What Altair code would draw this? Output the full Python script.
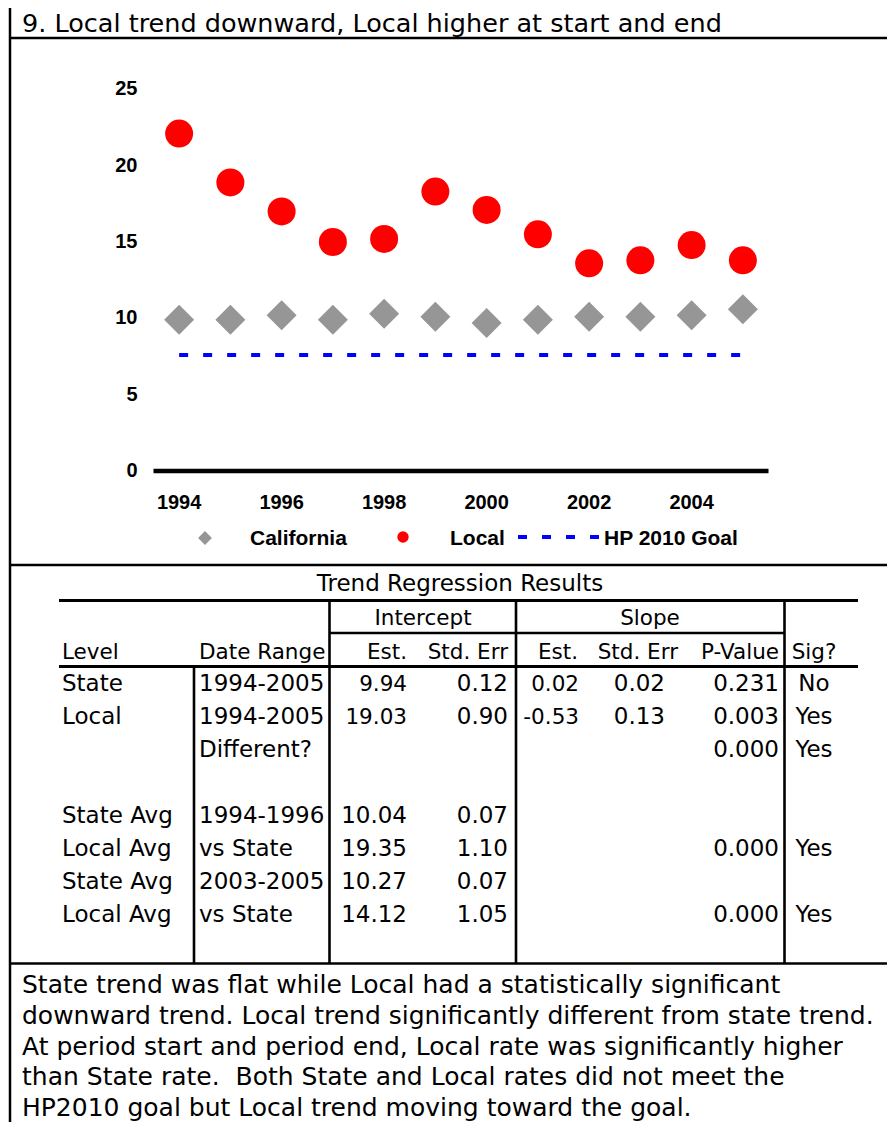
import altair as alt
import pandas as pd

# ---------------- data ----------------
years = [1994, 1995, 1996, 1997, 1998, 1999, 2000, 2001, 2002, 2003, 2004, 2005]
california = [9.9, 9.9, 10.2, 9.9, 10.3, 10.1, 9.7, 9.9, 10.1, 10.1, 10.2, 10.6]
local = [22.1, 18.9, 17.0, 15.0, 15.2, 18.3, 17.1, 15.5, 13.6, 13.8, 14.8, 13.8]
goal = [7.6, 7.6, 7.6, 7.6, 7.6, 7.6, 7.6, 7.6, 7.6, 7.6, 7.6, 7.6]
y_ticks = [0, 5, 10, 15, 20, 25]
x_ticks = [1994, 1996, 1998, 2000, 2002, 2004]
x_domain = [1993.5, 2005.5]
y_domain = [0, 25]
series_names = ["California", "Local", "HP 2010 Goal"]

title_text = "9. Local trend downward, Local higher at start and end"
table_title = "Trend Regression Results"
group_headers = ["Intercept", "Slope"]
col_headers = ["Level", "Date Range", "Est.", "Std. Err", "Est.", "Std. Err", "P-Value", "Sig?"]
level = ["State", "Local", "", "", "State Avg", "Local Avg", "State Avg", "Local Avg"]
date_range = ["1994-2005", "1994-2005", "Different?", "", "1994-1996", "vs State", "2003-2005", "vs State"]
int_est = ["9.94", "19.03", "", "", "10.04", "19.35", "10.27", "14.12"]
int_se = ["0.12", "0.90", "", "", "0.07", "1.10", "0.07", "1.05"]
slope_est = ["0.02", "-0.53", "", "", "", "", "", ""]
slope_se = ["0.02", "0.13", "", "", "", "", "", ""]
p_value = ["0.231", "0.003", "0.000", "", "", "0.000", "", "0.000"]
sig = ["No", "Yes", "Yes", "", "", "Yes", "", "Yes"]
summary = [
    "State trend was flat while Local had a statistically significant",
    "downward trend. Local trend significantly different from state trend.",
    "At period start and period end, Local rate was significantly higher",
    "than State rate.\u00a0 Both State and Local rates did not meet the",
    "HP2010 goal but Local trend moving toward the goal.",
]

# ---------------- layout (page pixel coordinates) ----------------
PAGE = 8
W, H = 879, 1114
LX = alt.Scale(domain=[PAGE, PAGE + W], range=[0, W], nice=False, zero=False)
LY = alt.Scale(domain=[PAGE, PAGE + H], range=[0, H], nice=False, zero=False)
DOC_FONT = "DejaVu Sans"
CH_FONT = "Liberation Sans"

TITLE_SIZE = 25.5
PARA_SIZE = 25
TT_SIZE = 23
HDR_SIZE = 21.5
BODY_SIZE = 23
EST_SIZE = 21.5
CH_SIZE = 20
LEG_SIZE = 21


def lx(f="x"):
    return alt.X(f"{f}:Q", scale=LX, axis=None)


def ly(f="y"):
    return alt.Y(f"{f}:Q", scale=LY, axis=None)


def text_layer(rows, align, font=DOC_FONT, weight="normal"):
    df = pd.DataFrame(rows, columns=["x", "y", "t", "fs"])
    return alt.Chart(df).mark_text(
        align=align, baseline="alphabetic", font=font, fontWeight=weight, color="black"
    ).encode(x=lx(), y=ly(), text="t:N", size=alt.Size("fs:Q", scale=None, legend=None))


def rule_layer(rows, width):
    df = pd.DataFrame(rows, columns=["x", "x2", "y", "y2"])
    return alt.Chart(df).mark_rule(color="black", strokeWidth=width, strokeCap="butt").encode(
        x=lx(), x2="x2:Q", y=ly(), y2="y2:Q"
    )


# frame lines
frame_lines = rule_layer([
    (10, 895, 38, 38),                         # under title
    (10, 895, 565, 565),                       # under chart
    (10, 895, 963.5, 963.5),                   # under table
], 2.5)
left_border = rule_layer([(10, 10, 0, 1130)], 2.5)

# table lines
table_thick = rule_layer([
    (59, 858, 600.5, 600.5),
    (59, 858, 666.5, 666.5),
], 3.2)
table_thin = rule_layer([
    (329.5, 785, 633, 633),
    (194, 194, 666.5, 963.5),
    (329.5, 329.5, 600.5, 963.5),
    (516, 516, 600.5, 963.5),
    (784.5, 784.5, 600.5, 963.5),
], 2.6)

# texts
left_rows, right_rows, center_rows = [], [], []
left_rows.append((22, 32, title_text, TITLE_SIZE))
center_rows.append((460, 591, table_title, TT_SIZE))
center_rows.append((423, 625, group_headers[0], HDR_SIZE))
center_rows.append((650, 625, group_headers[1], HDR_SIZE))
hdr_pos = [(62, "l"), (199, "l"), (407, "r"), (508, "r"), (578, "r"), (678, "r"), (779, "r"), (814, "c")]
for (hx, ha), h in zip(hdr_pos, col_headers):
    row = (hx, 659, h, HDR_SIZE)
    {"l": left_rows, "r": right_rows, "c": center_rows}[ha].append(row)

ROW0, STEP = 691, 33
cols = [
    (level, 62, "l", False),
    (date_range, 199, "l", False),
    (int_est, 407, "r", True),
    (int_se, 508, "r", False),
    (slope_est, 579, "r", True),
    (slope_se, 665, "r", False),
    (p_value, 779, "r", False),
    (sig, 814, "c", False),
]
for vals, cx, ca, small in cols:
    for i, v in enumerate(vals):
        if not v:
            continue
        fs = EST_SIZE if (small and i < 4) else BODY_SIZE
        row = (cx, ROW0 + i * STEP, v, fs)
        {"l": left_rows, "r": right_rows, "c": center_rows}[ca].append(row)

for i, line in enumerate(summary):
    left_rows.append((22, 993 + i * 30.8, line, PARA_SIZE))

doc_text = alt.layer(
    text_layer(left_rows, "left"),
    text_layer(right_rows, "right"),
    text_layer(center_rows, "center"),
)

# legend (layout coordinates)
LEG_Y = 545
leg_text = text_layer([(250, LEG_Y, series_names[0], LEG_SIZE),
                       (450, LEG_Y, series_names[1], LEG_SIZE),
                       (604, LEG_Y, series_names[2], LEG_SIZE)], "left", font=CH_FONT, weight="bold")
leg_diamond = alt.Chart(pd.DataFrame({"x": [205], "y": [538], "s": [series_names[0]]})).mark_point(
    shape="diamond", filled=True, size=190, color="#969696", opacity=1
).encode(x=lx(), y=ly())
leg_circle = alt.Chart(pd.DataFrame({"x": [403], "y": [537], "s": [series_names[1]]})).mark_circle(
    size=130, color="#FF0000", opacity=1
).encode(x=lx(), y=ly())
leg_dash = alt.Chart(pd.DataFrame({"x": [518], "x2": [602], "y": [537], "s": [series_names[2]]})).mark_rule(
    color="#0000FF", strokeWidth=4, strokeDash=[9, 15], strokeCap="butt"
).encode(x=lx(), x2="x2:Q", y=ly())

layout = alt.layer(frame_lines, left_border, table_thick, table_thin, doc_text,
                   leg_text, leg_diamond, leg_circle, leg_dash)

# ---------------- data plot (own scales) ----------------
DX = alt.Scale(domain=x_domain, range=[145.5, 760.5], nice=False, zero=False)
DY = alt.Scale(domain=y_domain, range=[463, 81.3], nice=False, zero=False)

df = pd.DataFrame({"year": years, "California": california, "Local": local, "Goal": goal})

axis_line = alt.Chart(pd.DataFrame({"a": [x_domain[0]], "b": [x_domain[1]], "v": [0]})).mark_rule(
    color="black", strokeWidth=4.3, strokeCap="butt"
).encode(x=alt.X("a:Q", scale=DX, axis=None), x2="b:Q", y=alt.Y("v:Q", scale=DY, axis=None))

goal_line = alt.Chart(df).mark_line(
    color="#0000FF", strokeWidth=4, strokeDash=[9, 15], strokeCap="butt"
).encode(x=alt.X("year:Q", scale=DX, axis=None), y=alt.Y("Goal:Q", scale=DY, axis=None))

ca_pts = alt.Chart(df).mark_point(
    shape="diamond", filled=True, size=900, color="#969696", opacity=1
).encode(x=alt.X("year:Q", scale=DX, axis=None), y=alt.Y("California:Q", scale=DY, axis=None))

loc_pts = alt.Chart(df).mark_circle(size=784, color="#FF0000", opacity=1).encode(
    x=alt.X("year:Q", scale=DX, axis=None), y=alt.Y("Local:Q", scale=DY, axis=None)
)

ytick_df = pd.DataFrame({"v": y_ticks, "lbl": [str(v) for v in y_ticks]})
ytick_lbl = alt.Chart(ytick_df).mark_text(
    align="right", baseline="middle", font=CH_FONT, fontWeight="bold", fontSize=CH_SIZE, dx=-16, color="black"
).encode(x=alt.X(datum=x_domain[0], type="quantitative", scale=DX, axis=None),
         y=alt.Y("v:Q", scale=DY, axis=None), text="lbl:N")

xtick_df = pd.DataFrame({"yr": x_ticks, "lbl": [str(v) for v in x_ticks]})
xtick_lbl = alt.Chart(xtick_df).mark_text(
    align="center", baseline="middle", font=CH_FONT, fontWeight="bold", fontSize=CH_SIZE, dy=32, color="black"
).encode(x=alt.X("yr:Q", scale=DX, axis=None),
         y=alt.Y(datum=y_domain[0], type="quantitative", scale=DY, axis=None), text="lbl:N")

plot = alt.layer(axis_line, goal_line, ca_pts, loc_pts, ytick_lbl, xtick_lbl)

chart = alt.layer(layout, plot).resolve_scale(x="independent", y="independent").properties(
    width=W, height=H, padding=0, autosize="none", background="white"
).configure_view(strokeWidth=0)

chart.save("out.html", embed_options={"renderer": "svg", "actions": False})
